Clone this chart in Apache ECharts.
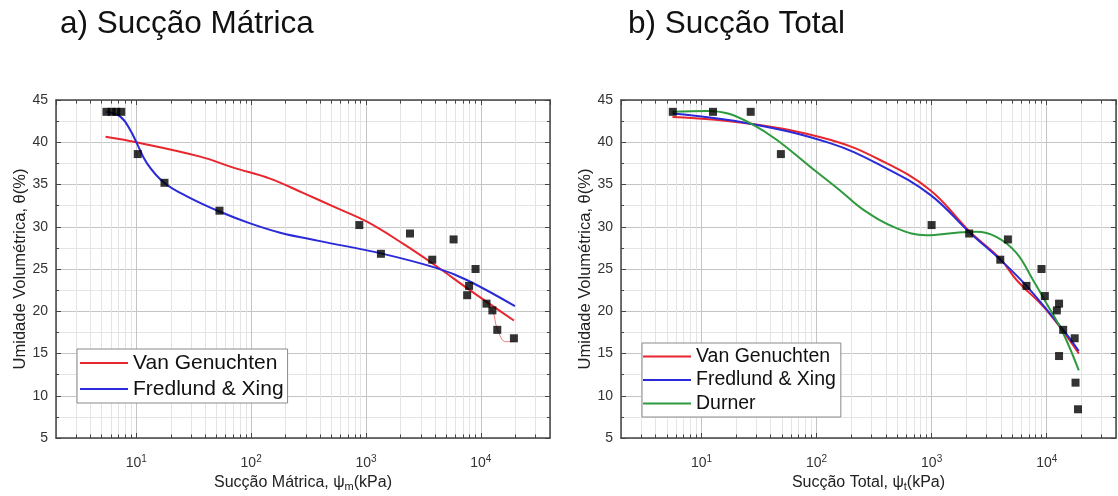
<!DOCTYPE html>
<html>
<head>
<meta charset="utf-8">
<script src="https://cdn.jsdelivr.net/npm/echarts@6/dist/echarts.min.js"></script>
<style>
  html, body { margin: 0; padding: 0; background: #fff; }
  #chart { width: 1118px; height: 496px; }
</style>
</head>
<body>
<div id="chart"></div>
<script>
// ---------- data ----------
const titleLeft = 'a) Sucção Mátrica';
const titleRight = 'b) Sucção Total';
const yName = 'Umidade Volumétrica, θ(%)';
const xNameLeft = 'Sucção Mátrica, ψ{sub|m}(kPa)';
const xNameRight = 'Sucção Total, ψ{sub|t}(kPa)';
const legendLeft = ['Van Genuchten', 'Fredlund & Xing'];
const legendRight = ['Van Genuchten', 'Fredlund & Xing', 'Durner'];

// measured points (a)
const leftSuction = [5.5, 6.1, 6.7, 7.4, 10.3, 17.6, 53, 875, 1349, 2415, 3775, 5790, 8990, 7900, 7600, 11200, 12600, 13900, 19400];
const leftTheta   = [43.6, 43.6, 43.6, 43.6, 38.6, 35.2, 31.9, 30.2, 26.8, 29.2, 26.1, 28.5, 25.0, 23.0, 21.9, 20.9, 20.1, 17.8, 16.8];

// fitted curves (a)
const leftVgX = [5.4, 10, 36, 70, 146, 283, 560, 1020, 2100, 4140, 8020, 19400];
const leftVgY = [40.65, 40.0, 38.3, 37.0, 35.7, 34.0, 32.2, 30.6, 28.0, 25.3, 22.5, 18.9];
const leftFxX = [5.5, 7.3, 8.9, 10.1, 12.4, 17.5, 27.6, 53, 98, 179, 398, 1349, 4140, 7550, 19800];
const leftFxY = [43.6, 43.0, 41.4, 39.9, 37.5, 35.2, 33.6, 31.8, 30.4, 29.3, 28.3, 26.85, 25.1, 23.7, 20.6];
const leftThinX = [10300, 12600, 13900, 16500, 19800];
const leftThinY = [21.4, 20.1, 17.9, 16.4, 16.4];

// measured points (b)
const rightSuction = [5.64, 12.6, 26.8, 49, 1000, 2120, 3950, 4600, 9010, 6670, 9630, 12800, 12250, 13900, 17500, 12800, 17800, 18700];
const rightTheta   = [43.6, 43.6, 43.6, 38.6, 30.2, 29.2, 26.1, 28.5, 25.0, 23.0, 21.8, 20.9, 20.1, 17.8, 16.8, 14.7, 11.55, 8.4];

// fitted curves (b)
const rightVgX = [5.6, 26.6, 131, 357, 968, 2150, 3950, 5470, 10000, 19000];
const rightVgY = [43.0, 42.2, 40.3, 37.9, 34.35, 29.4, 26.2, 23.7, 20.1, 15.0];
const rightFxX = [5.6, 26.6, 131, 357, 968, 2150, 3950, 6670, 13900, 19000];
const rightFxY = [43.4, 42.2, 39.9, 37.3, 33.8, 29.3, 26.1, 23.0, 17.8, 15.3];
const rightDuX = [5.6, 11.2, 17, 27, 45, 88, 160, 256, 500, 900, 1650, 2450, 3650, 5450, 7600, 10000, 13900, 19000];
const rightDuY = [43.6, 43.7, 43.4, 42.2, 40.3, 37.1, 34.3, 32.0, 29.8, 29.0, 29.3, 29.4, 28.8, 26.9, 23.7, 20.9, 17.4, 13.0];

// axes
const xMin = 2, xMax = 40000;
const yMin = 5, yMax = 45, yStep = 5;

// ---------- helpers ----------
const FONT = '"Liberation Sans", Arial, sans-serif';
const pair = (xs, ys) => xs.map((x, i) => [x, ys[i]]);

const minorVals = [];
[1, 10, 100, 1000, 10000].forEach(d => {
  for (let m = 2; m <= 9; m++) {
    const v = m * d;
    if (v > xMin && v < xMax) minorVals.push(v);
  }
});
const tickLen = 0.42;
function minorMarks() {
  const data = [];
  minorVals.forEach(v => data.push([{ coord: [v, yMin], lineStyle: { color: '#e4e4e4' } }, { coord: [v, yMax] }]));
  minorVals.forEach(v => data.push([{ coord: [v, yMin], lineStyle: { color: '#444' } }, { coord: [v, yMin + tickLen] }]));
  minorVals.forEach(v => data.push([{ coord: [v, yMax], lineStyle: { color: '#444' } }, { coord: [v, yMax - tickLen] }]));
  return data;
}

const axisLine = { show: true, lineStyle: { color: '#444', width: 1.5 } };

function xAxisPair(gridIndex, name) {
  return [
    {
      type: 'log', gridIndex, min: xMin, max: xMax, logBase: 10,
      name, nameLocation: 'middle', nameGap: 31,
      nameTextStyle: {
        fontFamily: FONT, fontSize: 16, color: '#222',
        rich: { sub: { fontFamily: FONT, fontSize: 11, color: '#222', padding: [9, 0, 0, 0] } }
      },
      axisLine,
      axisTick: { show: true, inside: true, length: 5, lineStyle: { color: '#444' } },
      axisLabel: {
        show: true, margin: 16, showMinLabel: false, showMaxLabel: false,
        fontFamily: FONT, fontSize: 14, color: '#333',
        formatter: v => {
          const e = Math.log10(v);
          if (Math.abs(e - Math.round(e)) > 1e-6) return '';
          return '10{sup|' + Math.round(e) + '}';
        },
        rich: { sup: { fontFamily: FONT, fontSize: 10, color: '#333', padding: [0, 0, 8, 0] } }
      },
      splitLine: { show: true, lineStyle: { color: '#c4c4c4', width: 1 } }
    },
    {
      type: 'log', gridIndex, min: xMin, max: xMax, logBase: 10, position: 'top',
      axisLine,
      axisTick: { show: true, inside: true, length: 5, lineStyle: { color: '#444' } },
      axisLabel: { show: false },
      splitLine: { show: false }
    }
  ];
}

function yAxisPair(gridIndex) {
  return [
    {
      type: 'value', gridIndex, min: yMin, max: yMax, interval: yStep,
      name: yName, nameLocation: 'middle', nameGap: 27,
      nameTextStyle: { fontFamily: FONT, fontSize: 16.5, color: '#222' },
      axisLine,
      axisTick: { show: true, inside: true, length: 5, lineStyle: { color: '#444' } },
      minorTick: { show: true, splitNumber: 2, length: 3, lineStyle: { color: '#444' } },
      minorSplitLine: { show: true, lineStyle: { color: '#e4e4e4' } },
      axisLabel: { margin: 8, fontFamily: FONT, fontSize: 14, color: '#333' },
      splitLine: { show: true, lineStyle: { color: '#c4c4c4' } }
    },
    {
      type: 'value', gridIndex, min: yMin, max: yMax, interval: yStep, position: 'right',
      axisLine,
      axisTick: { show: true, inside: true, length: 5, lineStyle: { color: '#444' } },
      minorTick: { show: true, splitNumber: 2, length: 3, lineStyle: { color: '#444' } },
      axisLabel: { show: false },
      splitLine: { show: false }
    }
  ];
}

function curve(name, xs, ys, color, xi, yi, width) {
  return {
    type: 'line', name, data: pair(xs, ys), xAxisIndex: xi, yAxisIndex: yi,
    smooth: 0.4, symbol: 'none', z: 3,
    lineStyle: { color, width: width || 2 }, itemStyle: { color }
  };
}
function points(xs, ys, xi, yi) {
  return {
    type: 'scatter', name: 'Dados', data: pair(xs, ys), xAxisIndex: xi, yAxisIndex: yi,
    symbol: 'rect', symbolSize: 8, z: 4, itemStyle: { color: '#000' }
  };
}
function gridSeries(xi, yi) {
  return {
    type: 'line', data: [], xAxisIndex: xi, yAxisIndex: yi, z: 1, silent: true,
    markLine: {
      z: 1, silent: true, symbol: 'none', animation: false,
      label: { show: false }, emphasis: { disabled: true },
      lineStyle: { type: 'solid', width: 1 },
      data: minorMarks()
    }
  };
}

const RED = '#e8262e', BLUE = '#2a2ad8', GREEN = '#2e9a3e';

const legendBase = {
  orient: 'vertical', backgroundColor: '#fff', borderColor: '#8a8a8a', borderWidth: 1,
  itemWidth: 48, itemHeight: 2, icon: 'rect', align: 'left', z: 20,
  selectedMode: false
};

const option = {
  animation: false,
  backgroundColor: '#fff',
  title: [
    { text: titleLeft, left: 55, top: 3, textStyle: { fontFamily: FONT, fontSize: 31.5, fontWeight: 'normal', color: '#111' } },
    { text: titleRight, left: 623, top: 3, textStyle: { fontFamily: FONT, fontSize: 31.5, fontWeight: 'normal', color: '#111' } }
  ],
  grid: [
    { left: 56, top: 100, width: 494, height: 338, containLabel: false, outerBoundsMode: 'none' },
    { left: 621, top: 100, width: 495, height: 338, containLabel: false, outerBoundsMode: 'none' }
  ],
  xAxis: [...xAxisPair(0, xNameLeft), ...xAxisPair(1, xNameRight)],
  yAxis: [...yAxisPair(0), ...yAxisPair(1)],
  legend: [
    Object.assign({}, legendBase, {
      data: legendLeft, left: 77, top: 349, padding: [3, 4, 3, 3], itemGap: 4,
      textStyle: { fontFamily: FONT, fontSize: 21, lineHeight: 22, color: '#111' }
    }),
    Object.assign({}, legendBase, {
      data: legendRight, left: 642, top: 343, padding: [3, 5, 3, 1], itemGap: 2.5,
      textStyle: { fontFamily: FONT, fontSize: 19.5, lineHeight: 21, color: '#111' }
    })
  ],
  series: [
    gridSeries(0, 0),
    gridSeries(2, 2),
    curve('Van Genuchten', leftVgX, leftVgY, RED, 0, 0),
    curve('Fredlund & Xing', leftFxX, leftFxY, BLUE, 0, 0),
    Object.assign(curve('ajuste', leftThinX, leftThinY, '#f07a7a', 0, 0, 1), { z: 2 }),
    points(leftSuction, leftTheta, 0, 0),
    curve('Van Genuchten', rightVgX, rightVgY, RED, 2, 2),
    curve('Fredlund & Xing', rightFxX, rightFxY, BLUE, 2, 2),
    curve('Durner', rightDuX, rightDuY, GREEN, 2, 2),
    points(rightSuction, rightTheta, 2, 2)
  ]
};

const chart = echarts.init(document.getElementById('chart'), null, { renderer: 'canvas' });
chart.setOption(option);
</script>
</body>
</html>
